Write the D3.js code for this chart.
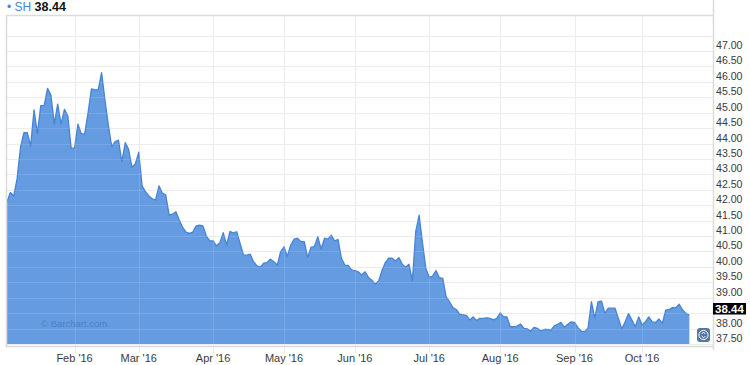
<!DOCTYPE html>
<html>
<head>
<meta charset="utf-8">
<script src="https://cdn.jsdelivr.net/npm/d3@7"></script>
<style>
    body { margin: 0; background: #fff; }
    svg { display: block; font-family: "Liberation Sans", Arial, sans-serif; }
</style>
</head>
<body>
<svg id="viewBox" width="750" height="365"></svg>
<script>
'use strict'

// daily closes, one array per month
const jan = [42.11, 42.41, 42.30, 42.87, 43.88, 44.35, 44.35, 43.92, 45.09, 44.33, 45.23, 45.23, 45.79, 45.57, 44.63, 45.28, 44.63, 45.11, 44.89, 43.85]
const feb = [43.85, 44.63, 44.31, 44.31, 45.00, 45.77, 45.74, 45.74, 46.30, 45.41, 44.60, 43.90, 44.06, 44.11, 43.41, 44.03, 43.81, 43.23, 43.34]
const mar = [43.72, 42.62, 42.44, 42.30, 42.21, 42.17, 42.63, 42.39, 42.33, 41.68, 41.71, 41.79, 41.52, 41.28, 41.13, 41.09, 41.13, 41.33, 41.35, 41.33, 41.00, 40.85]
const apr = [40.84, 40.68, 40.78, 41.11, 40.71, 41.15, 41.10, 41.14, 40.76, 40.38, 40.38, 40.41, 40.17, 40.03, 39.99, 40.12, 40.14, 40.25, 40.17, 40.06, 40.49]
const may = [40.65, 40.35, 40.71, 40.90, 40.93, 40.82, 40.82, 40.31, 40.64, 40.66, 40.98, 40.58, 40.93, 40.90, 41.03, 40.84, 40.89, 40.28, 40.06, 40.05, 39.90]
const jun = [39.88, 39.84, 39.74, 39.84, 39.66, 39.57, 39.44, 39.54, 39.88, 40.14, 40.28, 40.28, 40.19, 40.30, 40.09, 39.99, 40.09, 39.55, 41.14, 41.68, 40.78, 39.95]
const jul = [39.66, 39.70, 39.88, 39.65, 39.63, 39.03, 38.87, 38.68, 38.62, 38.47, 38.44, 38.43, 38.28, 38.38, 38.26, 38.33, 38.33, 38.35, 38.33, 38.28, 38.33]
const aug = [38.51, 38.38, 38.38, 38.06, 38.06, 38.08, 38.15, 38.01, 37.99, 37.92, 38.04, 38.01, 37.92, 37.97, 37.97, 37.95, 38.09, 38.14, 38.20, 38.04, 38.14, 38.22]
const sep = [38.20, 38.03, 37.92, 37.90, 38.01, 38.87, 38.35, 38.87, 38.89, 38.49, 38.66, 38.66, 38.66, 38.33, 37.99, 38.22, 38.49, 38.28, 38.06, 38.38]
const oct = [38.12, 38.22, 38.38, 38.22, 38.20, 38.31, 38.17, 38.60, 38.62, 38.68, 38.68, 38.79, 38.60, 38.49, 38.44]

const monthLabels = ["Jan '16", "Feb '16", "Mar '16", "Apr '16", "May '16", "Jun '16", "Jul '16", "Aug '16", "Sep '16", "Oct '16"]
const yTicks = [37.5, 38, 38.5, 39, 39.5, 40, 40.5, 41, 41.5, 42, 42.5, 43, 43.5, 44, 44.5, 45, 45.5, 46, 46.5, 47, 47.5]

const symbol = "SH"
const lastPrice = 38.44

const months = [jan, feb, mar, apr, may, jun, jul, aug, sep, oct]

// flatten to one series, remember where each month starts
const series = []
const monthStarts = []
months.forEach((m, k) => {
    monthStarts.push({ label: monthLabels[k], index: series.length })
    m.forEach(v => series.push({ i: series.length, v: v }))
})

const draw = () => {
    const left = 7
    const right = 713
    const top = 16
    const bottom = 344

    const svg = d3.select("#viewBox")

    const x = d3.scaleLinear()
        .domain([0, 209])
        .range([left, right])

    const y = d3.scaleLinear()
        .domain([37.5, 48.135])
        .range([bottom, top])

    // horizontal grid
    svg.append("g")
        .selectAll("line")
        .data(yTicks)
        .join("line")
        .attr("x1", left)
        .attr("x2", right)
        .attr("y1", d => Math.round(y(d)) + 0.5)
        .attr("y2", d => Math.round(y(d)) + 0.5)
        .attr("stroke", "#ebebeb")

    // vertical grid at month starts (no line for Jan)
    const monthTicks = monthStarts.slice(1)
    svg.append("g")
        .selectAll("line")
        .data(monthTicks)
        .join("line")
        .attr("x1", d => Math.round(x(d.index)) + 0.5)
        .attr("x2", d => Math.round(x(d.index)) + 0.5)
        .attr("y1", top)
        .attr("y2", bottom + 9)
        .attr("stroke", "#ebebeb")

    const area = d3.area()
        .x(d => x(d.i))
        .y0(y(37.5))
        .y1(d => y(d.v))

    const line = d3.line()
        .x(d => x(d.i))
        .y(d => y(d.v))

    svg.append("path")
        .datum(series)
        .attr("d", area)
        .attr("fill", "#659be0")

    svg.append("path")
        .datum(series)
        .attr("d", line)
        .attr("fill", "none")
        .attr("stroke", "#4684d6")
        .attr("stroke-width", 1.3)
        .attr("stroke-linejoin", "round")

    // faint grid showing through the fill
    const ghost = svg.append("g")
        .attr("stroke", "#ffffff")
        .attr("stroke-opacity", 0.13)
    ghost.selectAll("line.h")
        .data(yTicks)
        .join("line")
        .attr("class", "h")
        .attr("x1", left)
        .attr("x2", right)
        .attr("y1", d => Math.round(y(d)) + 0.5)
        .attr("y2", d => Math.round(y(d)) + 0.5)
    ghost.selectAll("line.v")
        .data(monthTicks)
        .join("line")
        .attr("class", "v")
        .attr("x1", d => Math.round(x(d.index)) + 0.5)
        .attr("x2", d => Math.round(x(d.index)) + 0.5)
        .attr("y1", top)
        .attr("y2", bottom)

    // watermark
    svg.append("text")
        .attr("x", 41)
        .attr("y", 327)
        .attr("fill", "#4a82c8")
        .attr("font-size", 9.5)
        .text("\u00a9 Barchart.com")

    // frame
    svg.append("line")
        .attr("x1", left - 0.5).attr("x2", left - 0.5)
        .attr("y1", top - 1).attr("y2", bottom + 3)
        .attr("stroke", "#dcdcdc").attr("stroke-width", 1.5)
    svg.append("line")
        .attr("x1", left - 1).attr("x2", right)
        .attr("y1", top - 0.5).attr("y2", top - 0.5)
        .attr("stroke", "#dcdcdc").attr("stroke-width", 1.5)
    svg.append("line")
        .attr("x1", right + 0.5).attr("x2", right + 0.5)
        .attr("y1", 0).attr("y2", bottom + 6)
        .attr("stroke", "#dcdcdc").attr("stroke-width", 1.5)
    svg.append("line")
        .attr("x1", left - 1).attr("x2", right)
        .attr("y1", bottom + 2.5).attr("y2", bottom + 2.5)
        .attr("stroke", "#d8d8d8").attr("stroke-width", 1.6)

    // month labels
    svg.append("g")
        .selectAll("text")
        .data(monthTicks)
        .join("text")
        .attr("x", d => x(d.index))
        .attr("y", 362)
        .attr("text-anchor", "middle")
        .attr("font-size", 11)
        .attr("fill", "#3a3a3a")
        .text(d => d.label)

    // price labels sit just above their grid line
    const tagY = y(lastPrice)
    const priceLabels = yTicks.filter(v => v <= 47 && Math.abs(y(v) - tagY) > 8)
    svg.append("g")
        .selectAll("text")
        .data(priceLabels)
        .join("text")
        .attr("x", right + 3)
        .attr("y", d => y(d) - 2)
        .attr("font-size", 10.6)
        .attr("fill", "#3a3a3a")
        .text(d => d.toFixed(2))

    // last price tag
    svg.append("rect")
        .attr("x", right)
        .attr("y", tagY - 12)
        .attr("width", 33)
        .attr("height", 11.5)
        .attr("fill", "#000")
    svg.append("text")
        .attr("x", right + 2)
        .attr("y", tagY - 2.5)
        .attr("font-size", 11.5)
        .attr("font-weight", "bold")
        .attr("fill", "#fff")
        .text(lastPrice.toFixed(2))

    // scroll button
    const btn = svg.append("g").attr("transform", "translate(697,328)")
    btn.append("rect")
        .attr("width", 13).attr("height", 14).attr("rx", 3)
        .attr("fill", "#54779e")
    btn.append("circle")
        .attr("cx", 6.5).attr("cy", 7).attr("r", 4.6)
        .attr("fill", "none").attr("stroke", "#fff").attr("stroke-width", 1)
    btn.append("path")
        .attr("d", "M4.6,6 L6.5,4.1 L8.4,6 M4.6,8 L6.5,9.9 L8.4,8")
        .attr("fill", "none").attr("stroke", "#fff").attr("stroke-width", 1)

    // header
    const head = svg.append("text")
        .attr("x", 7)
        .attr("y", 11)
        .attr("font-size", 12)
    head.append("tspan").attr("fill", "#4a86d4").text("\u2022 " + symbol + " ")
    head.append("tspan").attr("fill", "#111").attr("font-weight", "bold").attr("font-size", 12.5).text(lastPrice.toFixed(2))
}

draw()
</script>
</body>
</html>
